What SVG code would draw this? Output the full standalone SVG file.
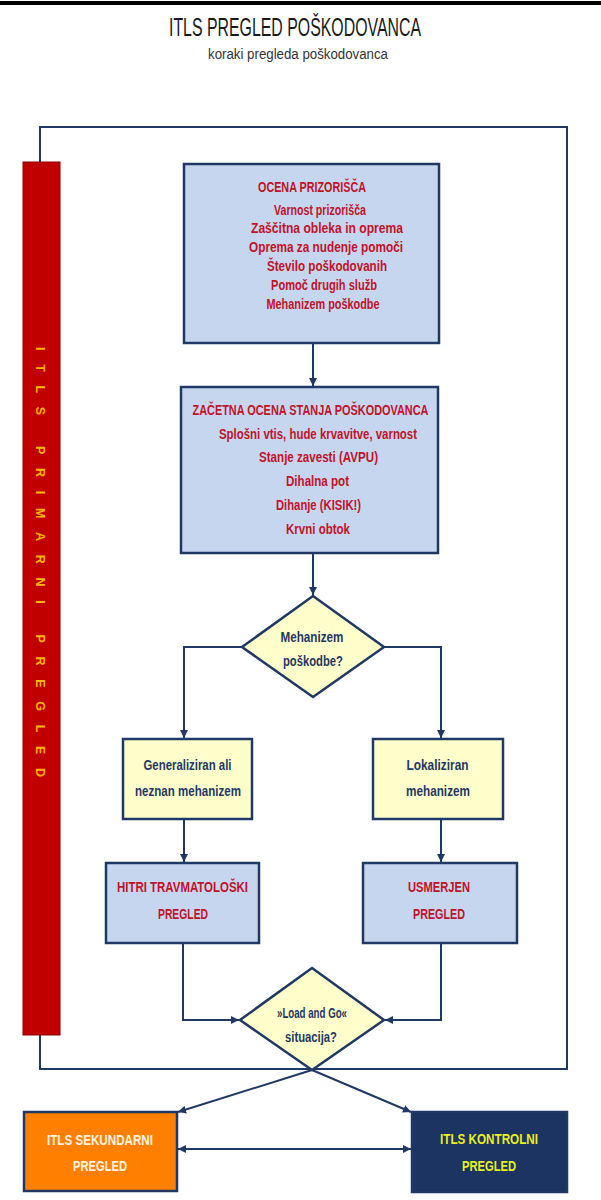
<svg xmlns="http://www.w3.org/2000/svg" width="601" height="1200" viewBox="0 0 601 1200">
<style>
.t{font-family:"Liberation Sans",Arial,sans-serif;text-anchor:middle}
.b{font-weight:bold;font-size:14.5px}
.red{fill:#C0132A}
.dk{fill:#1F3864}
.blue{fill:#C6D6EE;stroke:#1F3864;stroke-width:2.5}
.yel{fill:#FFFFCC;stroke:#1F3864;stroke-width:2.5}
.c{fill:none;stroke:#1F3864;stroke-width:2}
</style>
<defs>
<marker id="ah" viewBox="0 0 10 10" refX="10" refY="5" markerWidth="8" markerHeight="8" markerUnits="userSpaceOnUse" orient="auto-start-reverse">
<path d="M0,0 L10,5 L0,10 z" fill="#1F3864"/>
</marker>
</defs>
<rect x="0" y="1" width="601" height="4" fill="#000"/>
<g id="title">
<text class="t" x="295" y="36" font-size="25" fill="#1a1a1a" textLength="252" lengthAdjust="spacingAndGlyphs">ITLS PREGLED POŠKODOVANCA</text>
<text class="t" x="298" y="59" font-size="15.5" fill="#333" textLength="180" lengthAdjust="spacingAndGlyphs">koraki pregleda poškodovanca</text>
</g>
<g id="frame">
<path class="c" d="M40,162 V127 H567 V1069 H40 V1035" stroke-width="2.5"/>
</g>
<g id="primary-bar">
<rect x="23" y="162" width="37" height="873" fill="#C00000" stroke="#8B0000" stroke-width="1"/>
<text class="t" transform="translate(40,562) rotate(90)" x="0" y="4.5" font-size="12.5" font-weight="bold" fill="#FFB400" textLength="430" lengthAdjust="spacing">ITLS PRIMARNI PREGLED</text>
</g>
<g id="connectors">
<path class="c" d="M313,343 V386" marker-end="url(#ah)"/>
<path class="c" d="M313,553 V595" marker-end="url(#ah)"/>
<path class="c" d="M242,647 H184 V738" marker-end="url(#ah)"/>
<path class="c" d="M384,647 H441 V738" marker-end="url(#ah)"/>
<path class="c" d="M184,819 V862" marker-end="url(#ah)"/>
<path class="c" d="M441,819 V862" marker-end="url(#ah)"/>
<path class="c" d="M183,943 V1020 H239" marker-end="url(#ah)"/>
<path class="c" d="M441,943 V1020 H385" marker-end="url(#ah)"/>
<path class="c" d="M312,1070 L178,1112" marker-end="url(#ah)"/>
<path class="c" d="M312,1070 L411,1112" marker-end="url(#ah)"/>
<path class="c" d="M178,1149 H411" marker-start="url(#ah)" marker-end="url(#ah)"/>
</g>
<g id="ocena-prizorisca">
<rect class="blue" x="184" y="164" width="255" height="179"/>
<text class="t b red" x="312" y="192" textLength="108" lengthAdjust="spacingAndGlyphs">OCENA PRIZORIŠČA</text>
<text class="t b red" x="320" y="214.5" textLength="92" lengthAdjust="spacingAndGlyphs">Varnost prizorišča</text>
<text class="t b red" x="327" y="233.3" textLength="152" lengthAdjust="spacingAndGlyphs">Zaščitna obleka in oprema</text>
<text class="t b red" x="326" y="252" textLength="154" lengthAdjust="spacingAndGlyphs">Oprema za nudenje pomoči</text>
<text class="t b red" x="327" y="271" textLength="120" lengthAdjust="spacingAndGlyphs">Število poškodovanih</text>
<text class="t b red" x="324" y="289.7" textLength="106" lengthAdjust="spacingAndGlyphs">Pomoč drugih služb</text>
<text class="t b red" x="323" y="308.5" textLength="113" lengthAdjust="spacingAndGlyphs">Mehanizem poškodbe</text>
</g>
<g id="zacetna-ocena">
<rect class="blue" x="181" y="387" width="257" height="166"/>
<text class="t b red" x="310.5" y="415" textLength="236" lengthAdjust="spacingAndGlyphs">ZAČETNA OCENA STANJA POŠKODOVANCA</text>
<text class="t b red" x="318" y="439" textLength="198" lengthAdjust="spacingAndGlyphs">Splošni vtis, hude krvavitve, varnost</text>
<text class="t b red" x="318.5" y="462" textLength="119" lengthAdjust="spacingAndGlyphs">Stanje zavesti (AVPU)</text>
<text class="t b red" x="317.5" y="486" textLength="63" lengthAdjust="spacingAndGlyphs">Dihalna pot</text>
<text class="t b red" x="318.5" y="510" textLength="85" lengthAdjust="spacingAndGlyphs">Dihanje (KISIK!)</text>
<text class="t b red" x="318" y="534" textLength="64" lengthAdjust="spacingAndGlyphs">Krvni obtok</text>
</g>
<g id="mehanizem-poskodbe">
<polygon class="yel" points="313,596 384,647 313,697 242,647"/>
<text class="t b dk" x="312" y="642" textLength="63" lengthAdjust="spacingAndGlyphs">Mehanizem</text>
<text class="t b dk" x="313" y="666" textLength="60" lengthAdjust="spacingAndGlyphs">poškodbe?</text>
</g>
<g id="generaliziran">
<rect class="yel" x="123" y="739" width="129" height="80"/>
<text class="t b dk" x="187.5" y="770" textLength="88" lengthAdjust="spacingAndGlyphs">Generaliziran ali</text>
<text class="t b dk" x="188" y="796" textLength="106" lengthAdjust="spacingAndGlyphs">neznan mehanizem</text>
</g>
<g id="lokaliziran">
<rect class="yel" x="373" y="739" width="130" height="80"/>
<text class="t b dk" x="437.5" y="770" textLength="62" lengthAdjust="spacingAndGlyphs">Lokaliziran</text>
<text class="t b dk" x="438" y="796" textLength="64" lengthAdjust="spacingAndGlyphs">mehanizem</text>
</g>
<g id="hitri-pregled">
<rect class="blue" x="106" y="863" width="153" height="80"/>
<text class="t b red" x="182.5" y="892" textLength="131" lengthAdjust="spacingAndGlyphs">HITRI TRAVMATOLOŠKI</text>
<text class="t b red" x="183" y="918.5" textLength="50" lengthAdjust="spacingAndGlyphs">PREGLED</text>
</g>
<g id="usmerjen-pregled">
<rect class="blue" x="363" y="863" width="154" height="80"/>
<text class="t b red" x="439" y="892" textLength="62" lengthAdjust="spacingAndGlyphs">USMERJEN</text>
<text class="t b red" x="439" y="918.5" textLength="52" lengthAdjust="spacingAndGlyphs">PREGLED</text>
</g>
<g id="load-and-go">
<polygon class="yel" points="312,968 384,1020 312,1070 240,1020"/>
<text class="t b dk" x="312" y="1017.5" textLength="70" lengthAdjust="spacingAndGlyphs">»Load and Go«</text>
<text class="t b dk" x="311" y="1042" textLength="52" lengthAdjust="spacingAndGlyphs">situacija?</text>
</g>
<g id="sekundarni">
<rect x="24" y="1112" width="153" height="79" fill="#FF8000" stroke="#1F3864" stroke-width="2.5"/>
<text class="t b" x="100" y="1144.5" fill="#FFF4E0" textLength="106" lengthAdjust="spacingAndGlyphs">ITLS SEKUNDARNI</text>
<text class="t b" x="100" y="1170.5" fill="#FFF4E0" textLength="54" lengthAdjust="spacingAndGlyphs">PREGLED</text>
</g>
<g id="kontrolni">
<rect x="412" y="1112" width="155" height="80" fill="#1B3461" stroke="#1F3864" stroke-width="2.5"/>
<text class="t b" x="489" y="1144" fill="#E8F020" textLength="98" lengthAdjust="spacingAndGlyphs">ITLS KONTROLNI</text>
<text class="t b" x="489" y="1170.5" fill="#E8F020" textLength="54" lengthAdjust="spacingAndGlyphs">PREGLED</text>
</g>
</svg>
